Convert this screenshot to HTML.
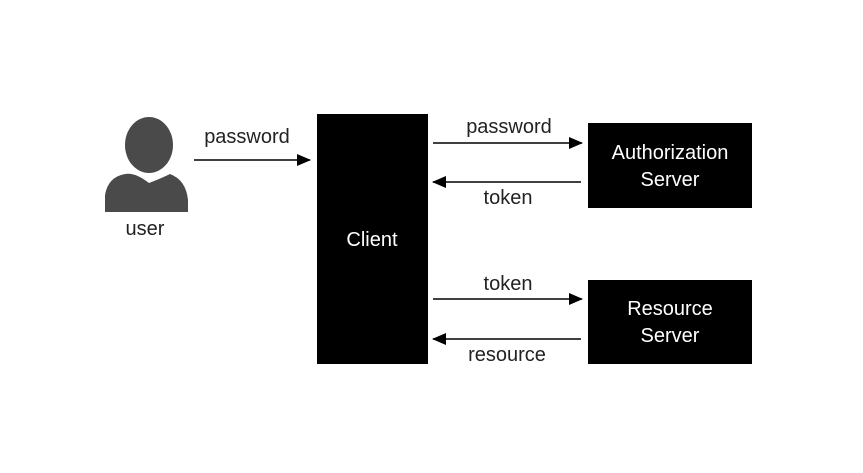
<!DOCTYPE html>
<html><head><style>
html,body{margin:0;padding:0;background:#fff;}
svg{display:block;}
text{font-family:"Liberation Sans","DejaVu Sans",sans-serif;font-size:20px;}
</style></head><body>
<svg width="863" height="473" viewBox="0 0 863 473" xmlns="http://www.w3.org/2000/svg">
<defs>
<marker id="a" markerWidth="14" markerHeight="14" refX="13" refY="7" orient="auto" markerUnits="userSpaceOnUse">
<path d="M0,1 L14,7 L0,13 z" fill="#000"/></marker>
</defs>
<rect width="863" height="473" fill="#fff"/>
<ellipse cx="149" cy="145" rx="24" ry="28" fill="#4a4a4a"/>
<path d="M105,212 L105,195 Q108,177 125,174 Q135,172 149,183 Q162,178 170,174 Q186,180 188,200 L188,212 Z" fill="#4a4a4a"/>
<text x="145" y="235" text-anchor="middle" fill="#222">user</text>
<rect x="317" y="114" width="111" height="250" fill="#000"/>
<text x="372" y="246" text-anchor="middle" fill="#fff">Client</text>
<rect x="588" y="123" width="164" height="85" fill="#000"/>
<text x="670" y="159" text-anchor="middle" fill="#fff">Authorization</text>
<text x="670" y="186" text-anchor="middle" fill="#fff">Server</text>
<rect x="588" y="280" width="164" height="84" fill="#000"/>
<text x="670" y="315" text-anchor="middle" fill="#fff">Resource</text>
<text x="670" y="342" text-anchor="middle" fill="#fff">Server</text>
<line x1="194" y1="160" x2="310" y2="160" stroke="#000" stroke-width="1.5" marker-end="url(#a)"/>
<text x="247" y="143" text-anchor="middle" fill="#222">password</text>
<line x1="433" y1="143" x2="582" y2="143" stroke="#000" stroke-width="1.5" marker-end="url(#a)"/>
<text x="509" y="133" text-anchor="middle" fill="#222">password</text>
<line x1="581" y1="182" x2="433" y2="182" stroke="#000" stroke-width="1.5" marker-end="url(#a)"/>
<text x="508" y="204" text-anchor="middle" fill="#222">token</text>
<line x1="433" y1="299" x2="582" y2="299" stroke="#000" stroke-width="1.5" marker-end="url(#a)"/>
<text x="508" y="290" text-anchor="middle" fill="#222">token</text>
<line x1="581" y1="339" x2="433" y2="339" stroke="#000" stroke-width="1.5" marker-end="url(#a)"/>
<text x="507" y="361" text-anchor="middle" fill="#222">resource</text>
</svg>
</body></html>
